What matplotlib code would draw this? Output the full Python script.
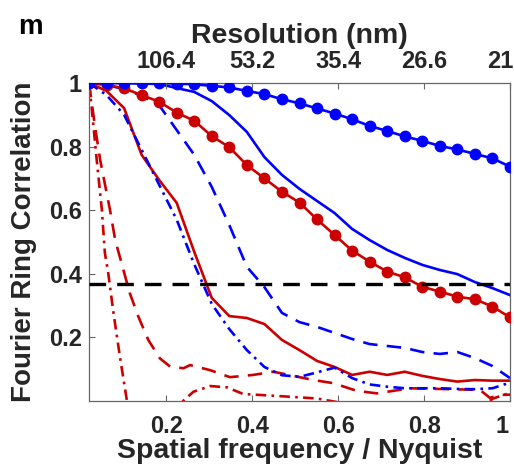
import numpy as np
import matplotlib
matplotlib.use('Agg')
import matplotlib.pyplot as plt
from matplotlib.transforms import ScaledTranslation

plt.rcParams['font.family'] = ['Liberation Sans', 'DejaVu Sans']
plt.rcParams['font.weight'] = 'bold'

# 数据
x_grid = np.linspace(0.02, 1.0, 25)

blue_marker = [1.0, 1.0, 1.0, 1.0, 1.0, 0.998, 0.996, 0.991, 0.986, 0.975, 0.965, 0.949, 0.936,
               0.920, 0.904, 0.886, 0.865, 0.849, 0.832, 0.818, 0.802, 0.791, 0.777, 0.763, 0.737]
red_marker = [1.0, 0.994, 0.983, 0.962, 0.941, 0.907, 0.881, 0.833, 0.798, 0.742, 0.700, 0.658, 0.624,
              0.571, 0.522, 0.473, 0.438, 0.407, 0.389, 0.359, 0.344, 0.328, 0.320, 0.297, 0.263]
blue_solid = [1.0, 1.0, 1.0, 0.998, 0.997, 0.984, 0.972, 0.943, 0.899, 0.846, 0.767, 0.711, 0.667,
              0.629, 0.591, 0.541, 0.506, 0.475, 0.450, 0.428, 0.412, 0.399, 0.374, 0.355, 0.333]
blue_dashed = [1.0, 0.995, 0.98, 0.96, 0.93, 0.852, 0.774, 0.673, 0.553, 0.422, 0.358, 0.277, 0.248,
               0.233, 0.214, 0.195, 0.179, 0.173, 0.167, 0.154, 0.148, 0.154, 0.135, 0.110, 0.072]
red_solid = [1.0, 0.975, 0.921, 0.774, 0.695, 0.623, 0.469, 0.324, 0.267, 0.261, 0.242, 0.192, 0.160,
             0.126, 0.107, 0.082, 0.092, 0.082, 0.092, 0.079, 0.069, 0.061, 0.066, 0.064, 0.064]
blue_dashdot = [1.0, 0.962, 0.90, 0.79, 0.68, 0.57, 0.43, 0.305, 0.226, 0.160, 0.107, 0.081, 0.076,
                0.090, 0.105, 0.072, 0.052, 0.045, 0.040, 0.040, 0.040, 0.038, 0.037, 0.040, 0.058]

red_dashed_x = [0.02, 0.034, 0.046, 0.069, 0.081, 0.115, 0.135, 0.158, 0.185, 0.209, 0.24, 0.255,
                0.302, 0.348, 0.402, 0.449, 0.496, 0.542, 0.589, 0.643, 0.69, 0.767, 0.93, 0.953,
                0.977, 1.0]
red_dashed = [1.0, 0.863, 0.758, 0.60, 0.506, 0.339, 0.265, 0.192, 0.134, 0.108, 0.103, 0.113,
              0.097, 0.075, 0.082, 0.092, 0.079, 0.066, 0.056, 0.032, 0.024, 0.040, 0.035, 0.010,
              0.019, 0.020]

red_dashdot_x = [0.02, 0.026, 0.038, 0.050, 0.057, 0.065, 0.077, 0.092, 0.108, 0.13, 0.17, 0.21,
                 0.239, 0.263, 0.302, 0.341, 0.379, 0.418, 0.48, 0.55, 0.604, 0.7, 0.85, 0.93,
                 0.961, 0.985, 1.0]
red_dashdot = [1.0, 0.925, 0.758, 0.60, 0.465, 0.40, 0.277, 0.139, 0.003, -0.10, -0.12, -0.06,
               0.0, 0.029, 0.047, 0.043, 0.022, 0.019, 0.014, 0.008, -0.005, -0.03, -0.03, -0.02,
               0.008, 0.019, 0.025]

threshold = 0.368

bottom_ticks = [0.2, 0.4, 0.6, 0.8, 1.0]
bottom_labels = ['0.2', '0.4', '0.6', '0.8', '1']
top_labels = ['106.4', '53.2', '35.4', '26.6', '21.3']
y_ticks = [0.2, 0.4, 0.6, 0.8, 1.0]
y_labels = ['0.2', '0.4', '0.6', '0.8', '1']

BLUE = '#0000FF'
RED = '#CC0000'
TXT = '#262626'
AXC = '#666666'

fig = plt.figure(figsize=(5.14, 4.71), dpi=100)
ax = fig.add_axes([89 / 514, 1 - 401 / 471, (510 - 89) / 514, (401 - 83) / 471])

lw = 1.9
ax.plot(x_grid, blue_marker, '-', color=BLUE, lw=lw, marker='o', ms=7.5, mec=BLUE, mfc=BLUE, zorder=5)
ax.plot(x_grid, red_marker, '-', color=RED, lw=lw, marker='o', ms=7.5, mec=RED, mfc=RED, zorder=4)
ax.plot(x_grid, blue_solid, '-', color=BLUE, lw=lw)
ax.plot(x_grid, red_solid, '-', color=RED, lw=lw)
ax.plot(x_grid, blue_dashed, color=BLUE, lw=lw, dashes=(5.5, 3.5))
ax.plot(red_dashed_x, red_dashed, color=RED, lw=lw, dashes=(5.5, 3.5))
ax.plot(x_grid, blue_dashdot, color=BLUE, lw=lw, dashes=(4, 2, 1, 2))
ax.plot(red_dashdot_x, red_dashdot, color=RED, lw=lw, dashes=(4, 2, 1, 2))
ax.plot([0.02, 1.0], [threshold, threshold], color='black', lw=2.4, dashes=(5, 3.3), zorder=6)

ax.set_xlim(0.02, 1.0)
ax.set_ylim(0, 1)
ax.set_xticks(bottom_ticks)
ax.set_xticklabels(bottom_labels)
ax.set_yticks(y_ticks)
ax.set_yticklabels(y_labels)
ax.tick_params(axis='both', direction='in', length=4, width=0.8, color=AXC,
               labelsize=17, labelcolor=TXT)
ax.tick_params(axis='x', pad=10)
ax.tick_params(axis='y', pad=5)
for s in ax.spines.values():
    s.set_color(AXC)
    s.set_linewidth(0.9)

# 最右侧刻度标签左移，避免被裁掉
last = ax.get_xticklabels()[-1]
last.set_transform(last.get_transform() + ScaledTranslation(-8 / 100, 0, fig.dpi_scale_trans))

ax.set_xlabel('Spatial frequency / Nyquist', fontsize=20.5, fontweight='bold', color=TXT, labelpad=0)
ax.set_ylabel('Fourier Ring Correlation', fontsize=20, fontweight='bold', color=TXT, labelpad=9)

ax2 = ax.twiny()
ax2.set_xlim(ax.get_xlim())
ax2.set_xticks(bottom_ticks)
ax2.set_xticklabels(top_labels)
ax2.tick_params(axis='x', direction='in', length=4, width=0.8, color=AXC,
                labelsize=17, labelcolor=TXT, pad=7)
for s in ax2.spines.values():
    s.set_visible(False)
ax2.set_xlabel('Resolution (nm)', fontsize=20.5, fontweight='bold', color=TXT, labelpad=5)

fig.text(30 / 514, 1 - 27 / 471, 'm', fontsize=20, fontweight='bold', color='black',
         ha='center', va='center')

fig.savefig('out.png', dpi=100)
